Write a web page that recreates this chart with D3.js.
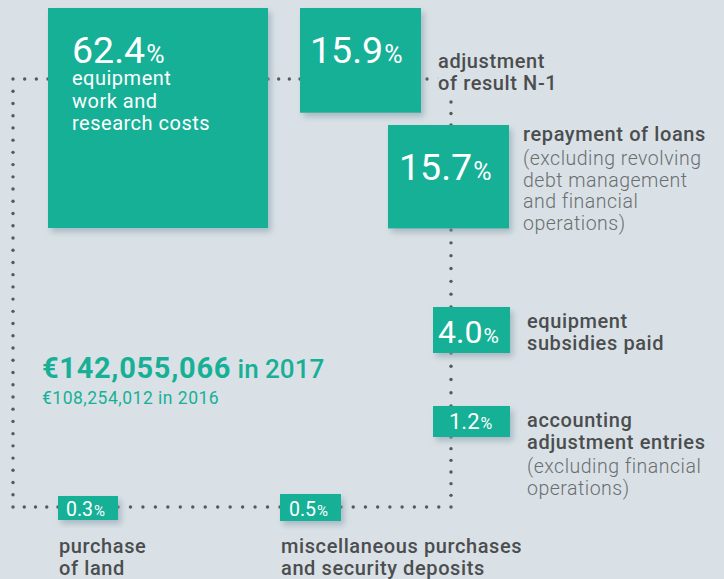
<!DOCTYPE html>
<html>
<head>
<meta charset="utf-8">
<script src="https://cdn.jsdelivr.net/npm/d3@7"></script>
<style>
	html, body { margin: 0; padding: 0; background: #d9e1e6; }
	svg { display: block; font-family: Roboto, "Open Sans", sans-serif; }
</style>
</head>
<body>
<div id="chart"></div>
<script>
// chart data
const values = [62.4, 15.9, 15.7, 4.0, 1.2, 0.3, 0.5];
const titles = [
	["equipment", "work and", "research costs"],
	["adjustment", "of result N-1"],
	["repayment of loans"],
	["equipment", "subsidies paid"],
	["accounting", "adjustment entries"],
	["purchase", "of land"],
	["miscellaneous purchases", "and security deposits"],
];
const notes = [[], [], ["(excluding revolving", "debt management", "and financial", "operations)"], [], ["(excluding financial", "operations)"], [], []];
const totalMain = "€142,055,066";
const totalYear = " in 2017";
const totalPrev = "€108,254,012 in 2016";

// layout of each box: top-left corner, width, minimum height, number placement, label placement
const layout = [
	{ x: 48, y: 8, w: 220, minH: 0, num: 37.5, pct: 25, nx: 24, ny: 55, lx: 72, ly: 85, inside: true },
	{ x: 300, y: 8, w: 121, minH: 0, num: 37.5, pct: 25, nx: 10, ny: 55, lx: 438, ly: 68 },
	{ x: 388, y: 125, w: 121, minH: 0, num: 37.5, pct: 25, nx: 11, ny: 55, lx: 523, ly: 141 },
	{ x: 433, y: 307, w: 77, minH: 46, num: 32, pct: 21, nx: 5, ny: 36, lx: 527, ly: 328 },
	{ x: 433, y: 406, w: 77, minH: 31, num: 22, pct: 16, nx: 16, ny: 23, lx: 527, ly: 427 },
	{ x: 58, y: 496, w: 60, minH: 24, num: 19.5, pct: 15, nx: 8, ny: 20, lx: 59, ly: 553 },
	{ x: 280, y: 494, w: 61, minH: 27, num: 19.5, pct: 15, nx: 9, ny: 22, lx: 281, ly: 553 },
];

// dotted connector polylines
const connectors = [
	[[48, 79], [13, 79], [13, 507], [58, 507]],
	[[118, 507], [280, 507]],
	[[341, 507], [451, 507], [451, 437]],
	[[451, 406], [451, 353]],
	[[451, 307], [451, 230]],
	[[451, 125], [451, 79], [415, 79]],
	[[268, 79], [300, 79]],
];

const width = 724, height = 579;
const bg = "#d9e1e6", teal = "#17b097", ink = "#4b4d4f", soft = "#6b6e70";

const svg = d3.select("#chart").append("svg").attr("width", width).attr("height", height);

const defs = svg.append("defs");
const shadow = defs.append("filter").attr("id", "shadow").attr("x", "-20%").attr("y", "-20%").attr("width", "150%").attr("height", "150%");
shadow.append("feDropShadow").attr("dx", 3).attr("dy", 4).attr("stdDeviation", 3).attr("flood-color", "#7f97a5").attr("flood-opacity", 0.55);

// box area grows with the share
const area = d3.scalePow().exponent(0.98).domain([0, d3.max(values)]).range([0, 220 * 220]);

const boxes = values.map((v, i) => {
	let l = layout[i];
	let h = Math.max(l.minH, area(v) / l.w);
	return { v: v, i: i, x: l.x, y: l.y, w: l.w, h: h };
});

// dots along the connectors
function dotsFor(points, step) {
	let out = [];
	for (let k = 0; k < points.length - 1; k++) {
		let [x0, y0] = points[k], [x1, y1] = points[k + 1];
		let len = Math.hypot(x1 - x0, y1 - y0);
		let n = Math.max(1, Math.round(len / step));
		for (let j = 0; j <= n; j++) {
			if (k > 0 && j === 0) continue;
			out.push([x0 + ((x1 - x0) * j) / n, y0 + ((y1 - y0) * j) / n]);
		}
	}
	return out;
}

let allDots = connectors.flatMap((c) => dotsFor(c, 12.2));
svg
	.append("g")
	.selectAll("circle")
	.data(allDots)
	.enter()
	.append("circle")
	.attr("cx", (d) => d[0])
	.attr("cy", (d) => d[1])
	.attr("r", 1.7)
	.attr("fill", "#55595c");

// boxes
svg
	.append("g")
	.selectAll("rect")
	.data(boxes)
	.enter()
	.append("rect")
	.attr("x", (d) => d.x)
	.attr("y", (d) => d.y)
	.attr("width", (d) => d.w)
	.attr("height", (d) => d.h)
	.attr("fill", teal)
	.attr("filter", "url(#shadow)");

// percentages
let nums = svg
	.append("g")
	.selectAll("text")
	.data(boxes)
	.enter()
	.append("text")
	.attr("x", (d) => d.x + layout[d.i].nx)
	.attr("y", (d) => d.y + layout[d.i].ny)
	.attr("fill", "#ffffff")
	.attr("font-size", (d) => layout[d.i].num);
nums.append("tspan").text((d) => d.v.toFixed(1));
nums
	.append("tspan")
	.attr("font-size", (d) => layout[d.i].pct)
	.attr("dx", 1)
	.text("%");

// labels
boxes.forEach((d) => {
	let l = layout[d.i];
	let g = svg.append("g").attr("class", "label");
	let y = l.ly;
	titles[d.i].forEach((line, k) => {
		g.append("text")
			.attr("x", l.lx)
			.attr("y", y)
			.attr("font-size", 20)
			.attr("letter-spacing", l.inside ? 0.5 : 0.6)
			.attr("font-weight", l.inside ? 400 : 500)
			.attr("fill", l.inside ? "#ffffff" : ink)
			.attr("stroke", l.inside ? "none" : bg)
			.attr("stroke-width", 7)
			.attr("paint-order", "stroke")
			.text(line);
		y += l.inside ? 22.5 : 22;
	});
	notes[d.i].forEach((line, k) => {
		if (k === 0) y += 2;
		g.append("text")
			.attr("x", l.lx)
			.attr("y", y)
			.attr("font-size", 19.5)
			.attr("letter-spacing", 0.5)
			.attr("font-weight", 300)
			.attr("fill", soft)
			.text(line);
		y += 21.5;
	});
});

// totals
let total = svg.append("text").attr("x", 42).attr("y", 378).attr("fill", teal).attr("font-size", 29).attr("letter-spacing", 0.7);
total.append("tspan").attr("font-weight", 700).text(totalMain);
total.append("tspan").attr("font-weight", 500).attr("font-size", 26).attr("letter-spacing", 0).text(totalYear);

svg.append("text").attr("x", 42).attr("y", 404).attr("fill", teal).attr("font-size", 17.5).attr("letter-spacing", 0.5).attr("font-weight", 400).text(totalPrev);
</script>
</body>
</html>
